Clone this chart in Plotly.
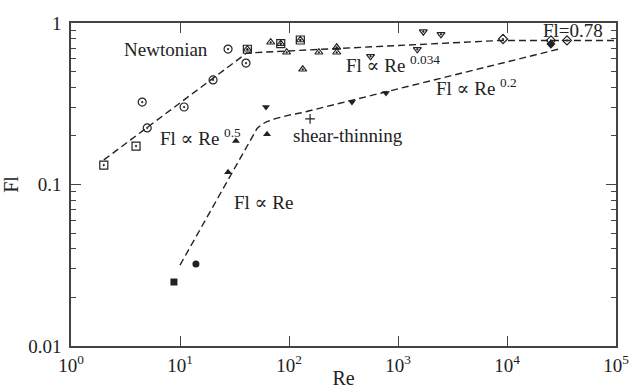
import plotly.graph_objects as go

# ---- Newtonian data (open markers with centre dot) ----
circ_re = [4.5, 5.0, 10.9, 20.1, 27.6, 40.3]
circ_fl = [0.324, 0.224, 0.302, 0.444, 0.69, 0.565]
sq_re = [2.0, 3.95, 41.5, 84.0, 127.0]
sq_fl = [0.132, 0.173, 0.688, 0.745, 0.785]
tri_re = [41.5, 67.9, 84.0, 95.2, 127.0, 133.6, 188.0, 274.0, 274.0]
tri_fl = [0.688, 0.76, 0.745, 0.659, 0.785, 0.517, 0.659, 0.707, 0.659]
tdn_re = [560.0, 1503.0, 1707.0, 2479.0]
tdn_fl = [0.622, 0.687, 0.884, 0.851]
dia_re = [9190.0, 25300.0, 35500.0]
dia_fl = [0.796, 0.78, 0.78]

# ---- shear-thinning data (filled markers) ----
fsq_re = [8.8]
fsq_fl = [0.0249]
fcirc_re = [14.0]
fcirc_fl = [0.0322]
ftri_re = [27.6, 32.6, 62.9]
ftri_fl = [0.119, 0.186, 0.205]
ftdn_re = [61.5, 378.0, 776.0]
ftdn_fl = [0.302, 0.324, 0.368]
plus_re = [156.0]
plus_fl = [0.255]
fdia_re = [25300.0]
fdia_fl = [0.74]

# ---- fitted dashed lines ----
newt_line_re = [2.0, 41.0, 8800.0, 100000.0]
newt_line_fl = [0.142, 0.652, 0.78, 0.78]
shear_line_re = [10.0, 50.9, 56.0, 62.0, 75.0, 100.0, 130.0, 30000.0]
shear_line_fl = [0.0317, 0.222, 0.235, 0.244, 0.256, 0.269, 0.278, 0.69]

x_ticks = [1, 10, 100, 1000, 10000, 100000]
x_ticktext = ["10<sup>0</sup>", "10<sup>1</sup>", "10<sup>2</sup>",
              "10<sup>3</sup>", "10<sup>4</sup>", "10<sup>5</sup>"]
y_ticks = [0.01, 0.1, 1]
y_ticktext = ["0.01", "0.1", "1"]
y_minor = [0.02, 0.03, 0.04, 0.05, 0.06, 0.07, 0.08, 0.09,
           0.2, 0.3, 0.4, 0.5, 0.6, 0.7, 0.8, 0.9]

INK = "#222222"
AX = "#444444"
FONT = "Liberation Serif, DejaVu Serif, serif"

fig = go.Figure()

def line(xs, ys):
    fig.add_trace(go.Scatter(x=xs, y=ys, mode="lines",
                             line=dict(color=INK, width=1.4, dash="7px,4px"),
                             showlegend=False, hoverinfo="skip"))

line(newt_line_re, newt_line_fl)
line(shear_line_re, shear_line_fl)

def pts(xs, ys, sym, size=7, lw=1.2):
    fig.add_trace(go.Scatter(x=xs, y=ys, mode="markers",
                             marker=dict(symbol=sym, size=size, color=INK,
                                         line=dict(color=INK, width=lw)),
                             showlegend=False))

pts(circ_re, circ_fl, "circle-open-dot", 8)
pts(sq_re, sq_fl, "square-open-dot", 8)
pts(tri_re, tri_fl, "triangle-up-open-dot", 7)
pts(tdn_re, tdn_fl, "triangle-down-open-dot", 7)
pts(dia_re, dia_fl, "diamond-open-dot", 7)

pts(fsq_re, fsq_fl, "square", 7, 0)
pts(fcirc_re, fcirc_fl, "circle", 7, 0)
pts(ftri_re, ftri_fl, "triangle-up", 7, 0)
pts(ftdn_re, ftdn_fl, "triangle-down", 7, 0)
pts(plus_re, plus_fl, "cross-thin", 7, 1.2)
pts(fdia_re, fdia_fl, "diamond", 7, 0)

# minor-tick overlay axis for y
fig.add_trace(go.Scatter(x=[1], y=[0.5], yaxis="y2", mode="markers",
                         marker=dict(opacity=0), showlegend=False,
                         hoverinfo="skip"))

def note(x, y, text, size=19):
    fig.add_annotation(x=x, y=y, xref="paper", yref="paper", text=text,
                       showarrow=False, font=dict(family=FONT, size=size, color=INK),
                       xanchor="center", yanchor="middle")

# annotation positions in paper fractions of the plotting area
W0, W = 71, 545
H0, H = 23, 323
def px(x, y):
    return (x - W0) / W, 1 - (y - H0) / H

for (xp, yp, t) in [
    (166, 49, "Newtonian"),
    (200, 137, "Fl ∝ Re <sup>0.5</sup>"),
    (348, 135, "shear-thinning"),
    (393, 64, "Fl ∝ Re <sup>0.034</sup>"),
    (476, 87, "Fl ∝ Re <sup>0.2</sup>"),
    (263, 202, "Fl ∝ Re"),
    (573, 31, "Fl=0.78"),
]:
    a, b = px(xp, yp)
    note(a, b, t)

axis_common = dict(showline=True, linecolor=AX, linewidth=1.5, mirror="ticks",
                   ticks="inside", tickcolor=AX, tickwidth=1.2,
                   showgrid=False, zeroline=False, automargin=False,
                   tickfont=dict(family=FONT, size=19, color=INK))

fig.update_layout(
    width=633, height=389,
    margin=dict(l=71, r=17, t=23, b=43),
    paper_bgcolor="white", plot_bgcolor="white",
    showlegend=False,
    xaxis=dict(type="log", range=[0, 5], tickvals=x_ticks, ticktext=x_ticktext,
               ticklen=10, ticklabelstandoff=1,
               title=dict(text="Re", font=dict(family=FONT, size=20, color=INK),
                          standoff=0),
               **axis_common),
    yaxis=dict(type="log", range=[-2, 0], tickvals=y_ticks, ticktext=y_ticktext,
               ticklen=10, ticklabelstandoff=4,
               title=dict(text="Fl", font=dict(family=FONT, size=20, color=INK),
                          standoff=4),
               **axis_common),
    yaxis2=dict(type="log", range=[-2, 0], overlaying="y", side="left",
                tickvals=y_minor, ticklen=5, ticks="inside", tickcolor=AX,
                tickwidth=1.2, showticklabels=False, showline=True,
                linecolor=AX, linewidth=1.5, mirror="ticks",
                showgrid=False, zeroline=False, automargin=False),
)

fig.write_html("out.html")
